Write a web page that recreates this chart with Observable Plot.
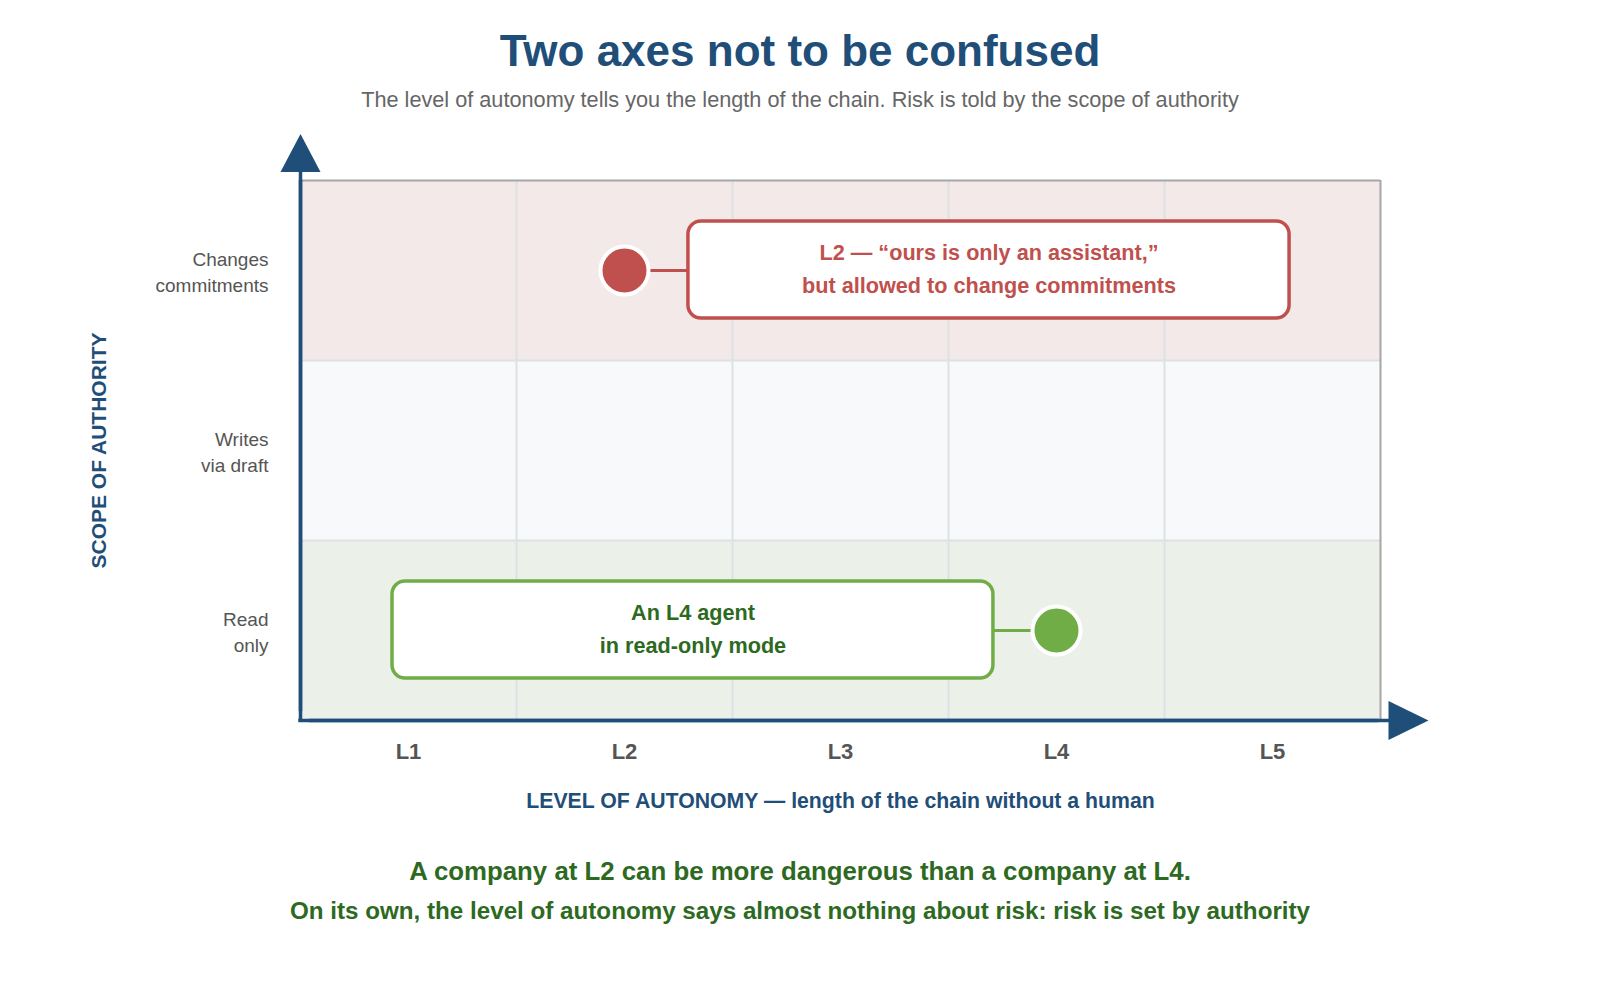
<!DOCTYPE html>
<html><head><meta charset="utf-8">
<script src="https://cdn.jsdelivr.net/npm/d3@7"></script>
<script src="https://cdn.jsdelivr.net/npm/@observablehq/plot@0.6"></script>
<style>
body{margin:0;background:#fff;font-family:"Liberation Sans",Arial,sans-serif;}
#page{position:relative;width:1600px;height:1000px;overflow:hidden;}
.t{position:absolute;left:0;width:1600px;text-align:center;line-height:1;white-space:nowrap;}
#title{top:29px;font-size:44px;font-weight:bold;color:#1f4e79;}
#subtitle{top:88.5px;font-size:21.7px;color:#666;}
#chart{position:absolute;left:0;top:120px;}
#note1{top:858.5px;font-size:25.8px;font-weight:bold;color:#2d6a1f;}
#note2{top:899px;font-size:24.2px;font-weight:bold;color:#2d6a1f;}
</style></head><body>
<div id="page">
<div class="t" id="title">Two axes not to be confused</div>
<div class="t" id="subtitle">The level of autonomy tells you the length of the chain. Risk is told by the scope of authority</div>
<div id="chart"></div>
<div class="t" id="note1">A company at L2 can be more dangerous than a company at L4.</div>
<div class="t" id="note2">On its own, the level of autonomy says almost nothing about risk: risk is set by authority</div>
</div>
<script>
// ---- data ----
const levels = [1, 2, 3, 4, 5];
const levelLabels = ["L1", "L2", "L3", "L4", "L5"];
const scopes = [1, 2, 3];
const scopeLabels = ["Read\nonly", "Writes\nvia draft", "Changes\ncommitments"];
const agentLevel = [2, 4];
const agentScope = [3, 1];
const agentTone = ["risk", "safe"];
const agentNotes = [
  "L2 — “ours is only an assistant,”\nbut allowed to change commitments",
  "An L4 agent\nin read-only mode"
];
const xTitle = "LEVEL OF AUTONOMY — length of the chain without a human";
const yTitle = "SCOPE OF AUTHORITY";

// ---- layout / style ----
const boxLayout = {           // annotation boxes, in data units
  x1: [2.296, 0.926], x2: [5.079, 3.708],
  y1: [2.733, 0.733], y2: [3.272, 1.272]
};
const rowFill = {1: "#ebf1e8", 2: "#f8f9fb", 3: "#f3e9e8"};
const toneDot = {risk: "#c0504d", safe: "#70ad47"};
const toneText = {risk: "#c0504d", safe: "#2d6a1f"};
const navy = "#1f4e79";

const lo = levels[0] - 0.5, hi = levels[levels.length - 1] + 0.5;
const slo = scopes[0] - 0.5, shi = scopes[scopes.length - 1] + 0.5;
const idx = agentLevel.map((_, i) => i);

function arrow(k) {
  return {draw(ctx, size) {
    const r = Math.sqrt(size / Math.PI);
    ctx.moveTo(-r, 0); ctx.lineTo(0, -r * k); ctx.lineTo(r, 0); ctx.closePath();
  }};
}

const axisStyle = {stroke: navy, strokeWidth: 3.5};

const chart = Plot.plot({
  width: 1600, height: 710,
  marginTop: 60, marginBottom: 110, marginLeft: 300, marginRight: 220,
  style: {fontFamily: "'Liberation Sans', Arial, sans-serif", background: "transparent"},
  x: {domain: [lo, hi]},
  y: {domain: [slo, shi]},
  color: {type: "identity"},
  marks: [
    Plot.rect(scopes, {x1: () => lo, x2: () => hi, y1: d => d - 0.5, y2: d => d + 0.5, fill: d => rowFill[d]}),
    Plot.ruleX(levels.slice(1), {x: d => d - 0.5, y1: () => slo, y2: () => shi, stroke: "#dde1e6", strokeWidth: 2}),
    Plot.ruleY(scopes.slice(1), {y: d => d - 0.5, x1: () => lo, x2: () => hi, stroke: "#dde1e6", strokeWidth: 2}),
    Plot.ruleY([shi], {x1: () => lo, x2: () => hi, stroke: "#a6a6a6", strokeWidth: 2}),
    Plot.ruleX([hi], {y1: () => slo, y2: () => shi, stroke: "#a6a6a6", strokeWidth: 2}),
    // axis lines with arrowheads (second rule shifted to reach the arrowhead)
    Plot.ruleX([lo], {y1: () => slo, y2: () => shi, ...axisStyle}),
    Plot.ruleX([lo], {y1: () => slo, y2: () => shi, dy: -9, ...axisStyle}),
    Plot.ruleY([slo], {x1: () => lo, x2: () => hi, dx: -1.75, ...axisStyle}),
    Plot.ruleY([slo], {x1: () => lo, x2: () => hi, dx: 9, ...axisStyle}),
    Plot.dot([0], {x: () => lo, y: () => shi, dy: -8.5, r: 20, symbol: arrow(1.9), fill: navy, stroke: "none"}),
    Plot.dot([0], {x: () => hi, y: () => slo, dx: 8, r: 19.5, symbol: arrow(2.05), rotate: 90, fill: navy, stroke: "none"}),
    // axes
    Plot.axisX(levels, {tickFormat: d => levelLabels[levels.indexOf(d)], tickSize: 0, tickPadding: 23,
      fontSize: 22, fontWeight: "bold", fill: "#555", label: null}),
    Plot.axisY(scopes, {tickFormat: d => scopeLabels[scopes.indexOf(d)], tickSize: 0, tickPadding: 32,
      fontSize: 19, fill: "#555", lineHeight: 1.4, label: null}),
    Plot.text([xTitle], {text: d => d, frameAnchor: "bottom", dy: 87, fontSize: 21.25, fontWeight: "bold", fill: navy}),
    Plot.text([yTitle], {text: d => d, frameAnchor: "left", textAnchor: "middle", dx: -201, rotate: -90,
      fontSize: 21, fontWeight: "bold", fill: navy}),
    // annotations
    Plot.link(idx, {
      x1: i => agentLevel[i],
      x2: i => agentTone[i] === "risk" ? boxLayout.x1[i] : boxLayout.x2[i],
      y1: i => agentScope[i], y2: i => agentScope[i],
      stroke: i => toneDot[agentTone[i]], strokeWidth: 3
    }),
    Plot.rect(idx, {
      x1: i => boxLayout.x1[i], x2: i => boxLayout.x2[i],
      y1: i => boxLayout.y1[i], y2: i => boxLayout.y2[i],
      fill: "white", stroke: i => toneDot[agentTone[i]], strokeWidth: 3.5, rx: 13
    }),
    Plot.text(idx, {
      x: i => (boxLayout.x1[i] + boxLayout.x2[i]) / 2, y: i => agentScope[i], dy: -4.5,
      text: i => agentNotes[i], fill: i => toneText[agentTone[i]],
      fontSize: 21.65, fontWeight: "bold", lineHeight: 1.5
    }),
    Plot.dot(idx, {
      x: i => agentLevel[i], y: i => agentScope[i], r: 24,
      fill: i => toneDot[agentTone[i]], stroke: "white", strokeWidth: 4
    })
  ]
});
document.getElementById("chart").appendChild(chart);
</script>
</body></html>
